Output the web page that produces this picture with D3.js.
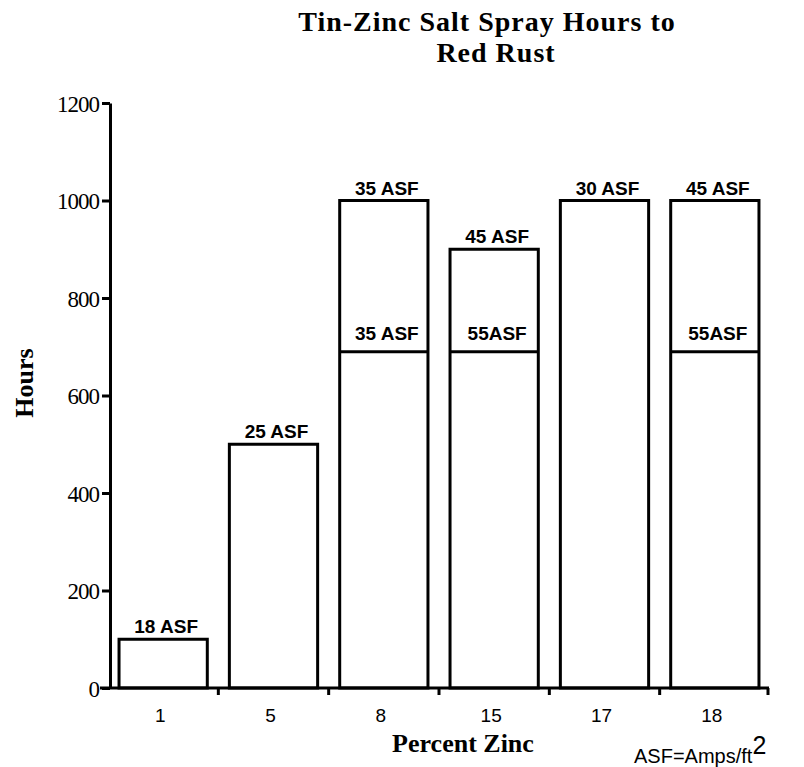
<!DOCTYPE html>
<html lang="en">
<head>
<meta charset="UTF-8">
<title>Tin-Zinc Salt Spray Hours to Red Rust</title>
<script src="https://d3js.org/d3.v7.min.js"></script>
<style>
  body { margin: 0; background: #fff; }
  svg { display: block; }
  .serif { font-family: "Liberation Serif", "Times New Roman", serif; font-weight: bold; fill: #000; }
  .sans { font-family: "Liberation Sans", Arial, sans-serif; fill: #000; }
</style>
</head>
<body>
<div id="chart"></div>
<script>
const width = 804;
const height = 767;

// data
const zincPercent = ["1", "5", "8", "15", "17", "18"];
const hoursTop = [100, 500, 1000, 900, 1000, 1000];
const labelTop = ["18 ASF", "25 ASF", "35 ASF", "45 ASF", "30 ASF", "45 ASF"];
const hoursInner = [null, null, 690, 690, null, 690];
const labelInner = [null, null, "35 ASF", "55ASF", null, "55ASF"];
const yTicks = [0, 200, 400, 600, 800, 1000, 1200];

const bars = zincPercent.map((z, i) => ({
  zinc: z, top: hoursTop[i], topLabel: labelTop[i],
  inner: hoursInner[i], innerLabel: labelInner[i]
}));

const svg = d3.select("#chart").append("svg")
  .attr("width", width).attr("height", height);

const x = d3.scaleBand()
  .domain(zincPercent)
  .range([108, 770])
  .paddingInner(0.2)
  .paddingOuter(0.1);

const y = d3.scaleLinear().domain([0, 1200]).range([688, 103]);

// title
svg.append("text").attr("class", "serif")
  .attr("x", 487).attr("y", 31)
  .attr("text-anchor", "middle").style("font-size", "28px")
  .style("letter-spacing", "1px")
  .text("Tin-Zinc Salt Spray Hours to");
svg.append("text").attr("class", "serif")
  .attr("x", 496).attr("y", 62)
  .attr("text-anchor", "middle").style("font-size", "28px")
  .style("letter-spacing", "1px")
  .text("Red Rust");

// bars
const g = svg.append("g");
g.selectAll("rect.bar")
  .data(bars)
  .join("rect")
  .attr("class", "bar")
  .attr("x", d => x(d.zinc))
  .attr("y", d => y(d.top))
  .attr("width", x.bandwidth())
  .attr("height", d => y(0) - y(d.top))
  .attr("fill", "#fff")
  .attr("stroke", "#000")
  .attr("stroke-width", 3);

g.selectAll("line.inner")
  .data(bars.filter(d => d.inner != null))
  .join("line")
  .attr("class", "inner")
  .attr("x1", d => x(d.zinc))
  .attr("x2", d => x(d.zinc) + x.bandwidth())
  .attr("y1", d => y(d.inner))
  .attr("y2", d => y(d.inner))
  .attr("stroke", "#000")
  .attr("stroke-width", 3);

g.selectAll("text.toplabel")
  .data(bars)
  .join("text")
  .attr("class", "sans toplabel")
  .attr("x", d => x(d.zinc) + x.bandwidth() / 2 + 3)
  .attr("y", d => y(d.top) - 6)
  .attr("text-anchor", "middle")
  .style("font-size", "19px")
  .style("font-weight", "bold")
  .text(d => d.topLabel);

g.selectAll("text.innerlabel")
  .data(bars.filter(d => d.inner != null))
  .join("text")
  .attr("class", "sans innerlabel")
  .attr("x", d => x(d.zinc) + x.bandwidth() / 2 + 3)
  .attr("y", d => y(d.inner) - 12)
  .attr("text-anchor", "middle")
  .style("font-size", "19px")
  .style("font-weight", "bold")
  .text(d => d.innerLabel);

// y axis
const yAxis = svg.append("g")
  .attr("transform", "translate(110,0)")
  .call(d3.axisLeft(y).tickValues(yTicks).tickFormat(d3.format("d"))
    .tickSize(8).tickSizeOuter(0).tickPadding(3));
yAxis.select(".domain").attr("stroke-width", 3);
yAxis.selectAll(".tick line").attr("stroke-width", 3);
yAxis.selectAll(".tick text")
  .attr("class", "serif")
  .style("font-size", "23px")
  .style("font-weight", "normal")
  .style("letter-spacing", "-1px")
  .attr("dy", "0.35em");

// x axis line and boundary ticks
const step = x.step();
const bounds = zincPercent.slice(1).map(z => x(z) - step * x.paddingInner() / 2);
bounds.push(768);
const xg = svg.append("g");
xg.append("line")
  .attr("x1", 100).attr("x2", 769)
  .attr("y1", y(0)).attr("y2", y(0))
  .attr("stroke", "#000").attr("stroke-width", 3);
xg.selectAll("line.btick")
  .data(bounds)
  .join("line")
  .attr("class", "btick")
  .attr("x1", d => d).attr("x2", d => d)
  .attr("y1", y(0)).attr("y2", y(0) + 7)
  .attr("stroke", "#000").attr("stroke-width", 3);

const xAxis = svg.append("g")
  .attr("transform", `translate(-3,${y(0)})`)
  .call(d3.axisBottom(x).tickSize(0).tickPadding(21));
xAxis.select(".domain").remove();
xAxis.selectAll(".tick text")
  .attr("class", "sans")
  .style("font-size", "19px");

// axis titles
svg.append("text").attr("class", "serif")
  .attr("transform", "translate(33,383) rotate(-90)")
  .attr("text-anchor", "middle")
  .style("font-size", "26px")
  .text("Hours");

svg.append("text").attr("class", "serif")
  .attr("x", 463).attr("y", 752)
  .attr("text-anchor", "middle")
  .style("font-size", "26px")
  .text("Percent Zinc");

const note = svg.append("text").attr("class", "sans")
  .attr("x", 634).attr("y", 763)
  .style("font-size", "20px");
note.append("tspan").text("ASF=Amps/ft");
note.append("tspan").attr("dy", -9).style("font-size", "25px").text("2");
</script>
</body>
</html>
